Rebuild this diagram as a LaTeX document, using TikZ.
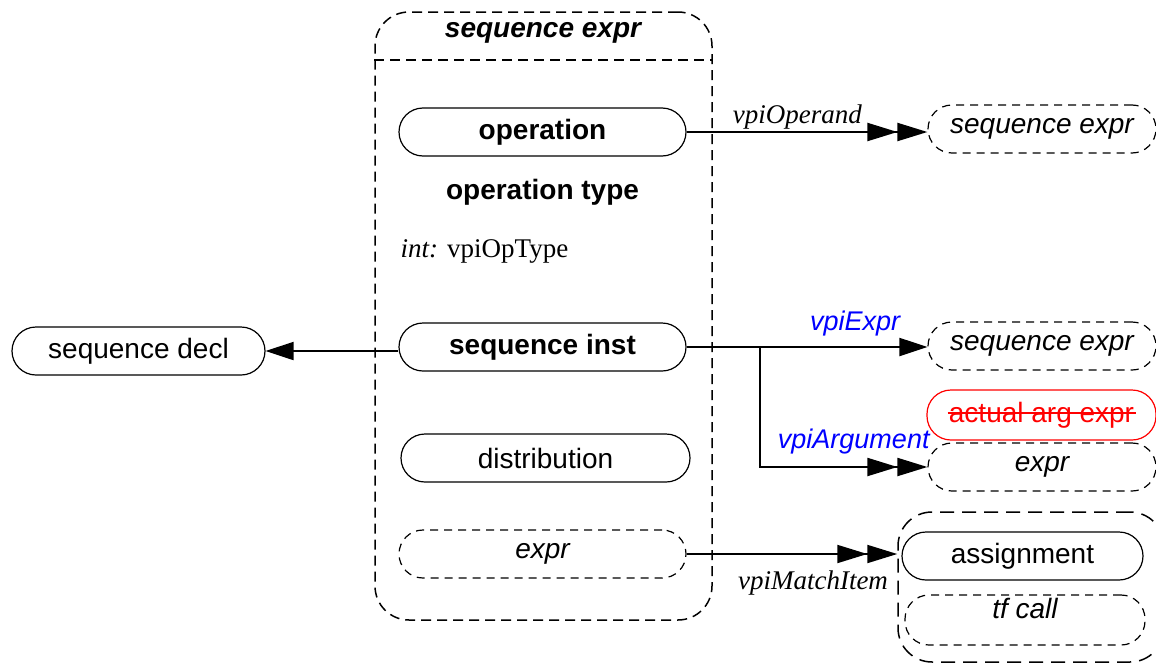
\documentclass[tikz,border=0pt]{standalone}
\usepackage{fontspec}
\setmainfont{Liberation Serif}
\setsansfont{Liberation Sans}
\usetikzlibrary{arrows.meta}
\definecolor{cblue}{HTML}{0000FF}
\definecolor{cred}{HTML}{FF0000}
\tikzset{
  every picture/.style={line width=1pt},
  pill/.style={draw, rounded corners=12pt, minimum height=24pt, inner sep=0pt, line width=0.6pt, font=\fontsize{14}{16}\sffamily},
  dpill/.style={pill, dash pattern=on 4pt off 3pt},
  frame/.style={draw, rounded corners=17pt, line width=0.75pt, dash pattern=on 5pt off 3pt},
  title/.style={font=\fontsize{14}{16}\sffamily\bfseries},
  rel/.style={font=\fontsize{13.5}{16}\itshape},
  relb/.style={font=\fontsize{13.5}{16}\sffamily\itshape, text=cblue},
  one/.style={-{Triangle[length=14pt, width=9pt]}},
  two/.style={-{Triangle[length=15pt, width=9pt, sep=0pt]Triangle[length=15pt, width=9pt]}},
}
\begin{document}
\begin{tikzpicture}[x=0.5pt, y=-0.5pt]
  \useasboundingbox (0,0) rectangle (1156,664);
  % sequence expr container
  \node[frame, minimum width=168.5pt, minimum height=304pt] (box) at (543.5,316) {};
  \coordinate (hdr) at (0,60);
  \draw[line width=0.75pt, dash pattern=on 5pt off 3pt] (box.west |- hdr) -- (box.east |- hdr);
  \node[title, font=\fontsize{14}{16}\sffamily\bfseries\itshape] (boxname) at (543,33) {sequence expr};
  \node[pill, minimum width=143.5pt, font=\fontsize{14}{16}\sffamily\bfseries] (op) at (542.5,132) {operation};
  \node[title] (optype) at (542.5,192) {operation type};
  \node[rel, anchor=west, font=\fontsize{13.5}{16}\rmfamily] (opint) at (393,251) {\textit{int:} vpiOpType};
  \node[pill, minimum width=143.5pt, font=\fontsize{14}{16}\sffamily\bfseries] (inst) at (542.5,347) {sequence inst};
  \node[pill, minimum width=144.5pt] (dist) at (545.5,458) {distribution};
  \node[dpill, minimum width=143.5pt, font=\fontsize{14}{16}\sffamily\itshape] (item) at (542.5,554) {expr};
  % left
  \node[pill, minimum width=126.5pt] (decl) at (138.5,351) {sequence decl};
  % right
  \node[dpill, minimum width=114pt, font=\fontsize{14}{16}\sffamily\itshape] (operand) at (1042,129) {sequence expr};
  \node[dpill, minimum width=114pt, font=\fontsize{14}{16}\sffamily\itshape] (seqx) at (1042,346) {sequence expr};
  \node[pill, draw=cred, text=cred, minimum width=114.5pt, minimum height=25pt] (actual) at (1041.5,415) {actual arg expr};
  \draw[cred, line width=0.8pt] (actual.center) ++(-94,-2) -- ++(188,0);
  \node[dpill, minimum width=114pt, font=\fontsize{14}{16}\sffamily\itshape] (arg) at (1042,467) {expr};
  % match item group
  \node[frame, dash pattern=on 7pt off 4pt, minimum width=133pt, minimum height=75pt] (grp) at (1031,587) {};
  \node[pill, minimum width=120.5pt] (asgn) at (1022.5,556) {assignment};
  \node[dpill, minimum width=120pt, minimum height=25pt, text height=10pt, text depth=12pt, font=\fontsize{14}{16}\sffamily\itshape] (tf) at (1025,620) {tf call};
  % connectors
  \draw[two] (op.east) -- (op.east -| operand.west) node[rel, above, pos=0.46, inner sep=1pt] {vpiOperand};
  \draw[one] (inst.west |- decl.east) -- (decl.east);
  \draw[one] (inst.east) -- (inst.east -| seqx.west) node[relb, above, pos=0.7, inner sep=5pt] {vpiExpr};
  \coordinate (fork) at (760,347);
  \draw[two] (fork) |- (arg.west) node[relb, above, pos=0.78, inner sep=6pt] {vpiArgument};
  \draw[two] (item.east) -- (item.east -| grp.west) node[rel, below, pos=0.6, inner sep=8pt] {vpiMatchItem};
\end{tikzpicture}
\end{document}
